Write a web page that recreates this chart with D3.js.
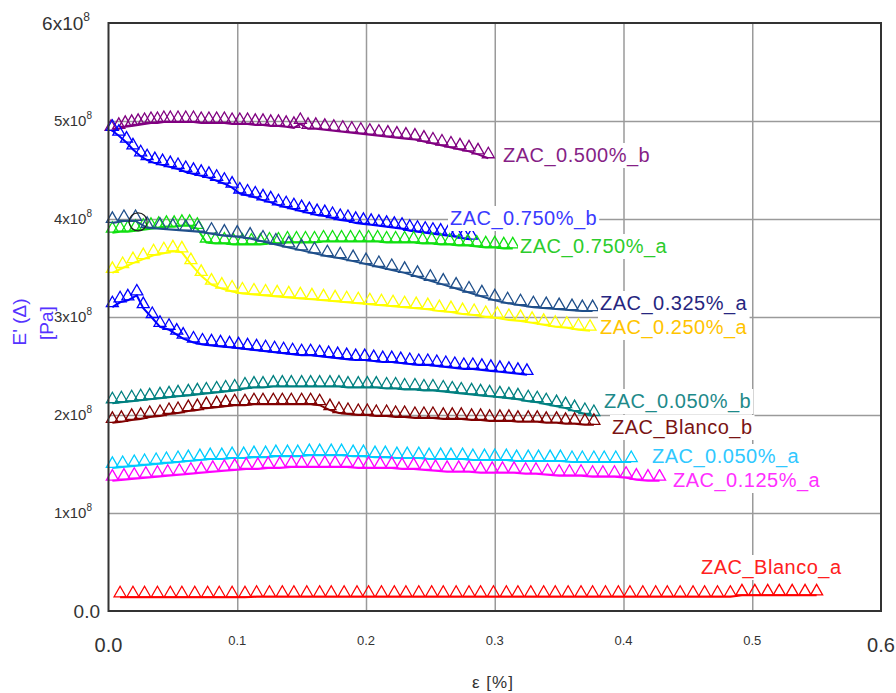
<!DOCTYPE html>
<html><head><meta charset="utf-8">
<script src="https://cdn.jsdelivr.net/npm/d3@7"></script>
<style>
html,body{margin:0;padding:0;background:#fff;}
svg{display:block;font-family:"Liberation Sans",Arial,sans-serif;}
</style></head>
<body>
<svg id="chart" width="896" height="693"></svg>
<script>
// ---- axis ticks ----
const xTicks = [0, 0.1, 0.2, 0.3, 0.4, 0.5, 0.6];
const xTickLabels = ["0.0", "0.1", "0.2", "0.3", "0.4", "0.5", "0.6"];
const yTicks = [0, 1, 2, 3, 4, 5, 6]; // units of 1e8 Pa
const yTickMantissa = ["0.0", "1x10", "2x10", "3x10", "4x10", "5x10", "6x10"];
const yTickExponent = ["", "8", "8", "8", "8", "8", "8"];

// ---- series (strain %, E' in 1e8 Pa) ----
const seriesNames = ["ZAC_0.500%_b", "ZAC_0.750%_b", "ZAC_0.750%_a", "ZAC_0.325%_a", "ZAC_0.250%_a", "ZAC_0.750%_b(2)", "ZAC_0.050%_b", "ZAC_Blanco_b", "ZAC_0.050%_a", "ZAC_0.125%_a", "ZAC_Blanco_a"];

const s0500b_x = [0.002,0.008,0.013,0.018,0.023,0.028,0.033,0.038,0.043,0.048,0.054,0.060,0.066,0.072,0.078,0.084,0.090,0.096,0.102,0.108,0.114,0.120,0.126,0.132,0.138,0.144,0.149,0.155,0.161,0.168,0.175,0.182,0.189,0.196,0.203,0.210,0.217,0.224,0.231,0.238,0.245,0.252,0.259,0.266,0.273,0.280,0.287,0.295];
const s0500b_y = [4.90,4.92,4.94,4.95,4.96,4.97,4.98,4.98,4.99,4.99,4.99,4.99,4.99,4.98,4.98,4.98,4.98,4.97,4.97,4.97,4.96,4.96,4.95,4.95,4.94,4.93,4.97,4.92,4.92,4.91,4.90,4.89,4.88,4.87,4.86,4.85,4.84,4.83,4.82,4.81,4.79,4.77,4.75,4.73,4.71,4.69,4.66,4.62];

const s0750b_x = [0.003,0.008,0.014,0.019,0.025,0.030,0.036,0.042,0.048,0.054,0.060,0.066,0.072,0.078,0.084,0.090,0.096,0.102,0.108,0.114,0.120,0.126,0.132,0.138,0.144,0.150,0.156,0.162,0.168,0.174,0.180,0.186,0.192,0.198,0.204,0.210,0.216,0.222,0.228,0.234,0.240,0.246,0.252,0.258,0.264,0.270,0.276,0.282];
const s0750b_y = [4.90,4.85,4.78,4.71,4.64,4.60,4.57,4.55,4.53,4.51,4.48,4.46,4.44,4.42,4.39,4.36,4.32,4.26,4.24,4.22,4.19,4.17,4.14,4.12,4.10,4.08,4.06,4.04,4.03,4.01,3.99,3.98,3.96,3.95,3.94,3.93,3.92,3.91,3.90,3.88,3.87,3.86,3.85,3.84,3.83,3.82,3.80,3.79];

const s0750a_x = [0.003,0.009,0.015,0.021,0.027,0.033,0.039,0.045,0.051,0.057,0.063,0.069,0.076,0.083,0.090,0.097,0.104,0.111,0.118,0.125,0.132,0.139,0.146,0.153,0.160,0.167,0.174,0.181,0.188,0.195,0.202,0.209,0.216,0.223,0.230,0.237,0.244,0.251,0.258,0.265,0.272,0.279,0.286,0.293,0.300,0.307,0.314];
const s0750a_y = [3.86,3.87,3.87,3.88,3.89,3.90,3.91,3.92,3.92,3.93,3.93,3.90,3.76,3.75,3.75,3.74,3.74,3.74,3.74,3.75,3.75,3.76,3.76,3.76,3.76,3.77,3.77,3.77,3.77,3.77,3.77,3.77,3.76,3.76,3.76,3.76,3.75,3.75,3.74,3.74,3.73,3.73,3.72,3.71,3.71,3.70,3.70];

const s0325a_x = [0.003,0.012,0.021,0.030,0.040,0.050,0.060,0.070,0.080,0.090,0.100,0.110,0.120,0.130,0.140,0.150,0.160,0.170,0.180,0.190,0.200,0.210,0.220,0.230,0.240,0.250,0.260,0.270,0.280,0.290,0.300,0.310,0.320,0.330,0.340,0.350,0.360,0.368,0.376];
const s0325a_y = [3.96,3.98,3.98,3.91,3.90,3.89,3.88,3.87,3.85,3.83,3.82,3.80,3.77,3.74,3.71,3.68,3.65,3.62,3.60,3.57,3.54,3.51,3.48,3.45,3.41,3.37,3.33,3.29,3.25,3.21,3.17,3.14,3.12,3.10,3.09,3.08,3.07,3.06,3.06];

const s0250a_x = [0.003,0.011,0.019,0.027,0.035,0.043,0.050,0.057,0.064,0.072,0.080,0.088,0.096,0.104,0.113,0.122,0.131,0.140,0.149,0.158,0.167,0.176,0.185,0.194,0.203,0.212,0.221,0.230,0.239,0.248,0.257,0.266,0.275,0.284,0.293,0.302,0.311,0.320,0.329,0.338,0.347,0.356,0.365,0.374];
const s0250a_y = [3.45,3.50,3.55,3.59,3.63,3.65,3.67,3.66,3.54,3.42,3.33,3.29,3.26,3.24,3.23,3.22,3.21,3.20,3.19,3.18,3.17,3.16,3.15,3.14,3.13,3.12,3.11,3.10,3.09,3.08,3.06,3.05,3.03,3.02,3.00,2.99,2.97,2.96,2.94,2.92,2.90,2.89,2.87,2.86];

const s0750b2_x = [0.003,0.009,0.015,0.022,0.027,0.034,0.040,0.047,0.053,0.058,0.066,0.073,0.080,0.087,0.094,0.101,0.108,0.115,0.122,0.129,0.136,0.143,0.150,0.157,0.164,0.171,0.178,0.185,0.192,0.199,0.206,0.213,0.220,0.227,0.234,0.241,0.248,0.255,0.262,0.269,0.276,0.283,0.290,0.297,0.304,0.311,0.318,0.325];
const s0750b2_y = [3.10,3.15,3.17,3.22,3.09,2.99,2.90,2.87,2.82,2.78,2.74,2.72,2.71,2.70,2.69,2.68,2.67,2.66,2.65,2.64,2.63,2.62,2.61,2.61,2.60,2.59,2.58,2.57,2.56,2.56,2.55,2.54,2.54,2.53,2.52,2.51,2.51,2.50,2.49,2.48,2.47,2.47,2.46,2.45,2.44,2.43,2.42,2.41];

const s0050b_x = [0.003,0.010,0.018,0.025,0.032,0.040,0.047,0.054,0.062,0.069,0.076,0.084,0.091,0.098,0.106,0.113,0.120,0.128,0.135,0.142,0.150,0.157,0.164,0.172,0.179,0.186,0.194,0.201,0.208,0.216,0.223,0.230,0.238,0.245,0.252,0.260,0.267,0.274,0.282,0.289,0.296,0.304,0.311,0.318,0.326,0.333,0.340,0.348,0.355,0.362,0.370,0.377];
const s0050b_y = [2.12,2.13,2.14,2.15,2.16,2.17,2.18,2.19,2.20,2.21,2.22,2.23,2.24,2.25,2.27,2.28,2.28,2.29,2.29,2.29,2.29,2.29,2.29,2.29,2.29,2.28,2.28,2.28,2.28,2.27,2.27,2.26,2.26,2.25,2.25,2.24,2.23,2.22,2.21,2.20,2.19,2.18,2.17,2.16,2.14,2.13,2.11,2.09,2.07,2.04,2.01,1.99];

const sBlancob_x = [0.003,0.010,0.018,0.025,0.032,0.040,0.047,0.054,0.062,0.069,0.076,0.084,0.091,0.098,0.106,0.113,0.120,0.128,0.135,0.142,0.150,0.157,0.164,0.172,0.179,0.186,0.194,0.201,0.208,0.216,0.223,0.230,0.238,0.245,0.252,0.260,0.267,0.274,0.282,0.289,0.296,0.304,0.311,0.318,0.326,0.333,0.340,0.348,0.355,0.362,0.370,0.377];
const sBlancob_y = [1.92,1.93,1.95,1.96,1.98,1.99,2.01,2.02,2.04,2.05,2.07,2.08,2.09,2.10,2.10,2.11,2.11,2.11,2.11,2.11,2.11,2.11,2.10,2.05,2.02,2.01,2.00,2.00,1.99,1.99,1.98,1.98,1.97,1.97,1.97,1.96,1.96,1.96,1.95,1.95,1.94,1.94,1.94,1.93,1.93,1.93,1.92,1.92,1.91,1.91,1.90,1.90];

const s0050a_x = [0.003,0.011,0.020,0.028,0.037,0.045,0.054,0.062,0.071,0.079,0.088,0.096,0.105,0.113,0.122,0.130,0.139,0.147,0.156,0.164,0.173,0.181,0.190,0.198,0.207,0.215,0.224,0.232,0.241,0.249,0.258,0.266,0.275,0.283,0.292,0.300,0.309,0.317,0.326,0.334,0.343,0.351,0.360,0.368,0.377,0.385,0.394,0.406];
const s0050a_y = [1.46,1.47,1.48,1.49,1.50,1.51,1.52,1.53,1.54,1.55,1.55,1.56,1.56,1.57,1.57,1.58,1.58,1.58,1.59,1.59,1.59,1.59,1.58,1.58,1.57,1.57,1.56,1.56,1.56,1.55,1.55,1.55,1.55,1.54,1.54,1.54,1.54,1.53,1.53,1.53,1.53,1.53,1.52,1.52,1.52,1.52,1.52,1.52];

const s0125a_x = [0.003,0.012,0.020,0.029,0.038,0.046,0.055,0.064,0.072,0.081,0.090,0.098,0.107,0.116,0.124,0.133,0.142,0.150,0.159,0.168,0.176,0.185,0.194,0.202,0.211,0.220,0.228,0.237,0.246,0.254,0.263,0.272,0.280,0.289,0.298,0.306,0.315,0.324,0.332,0.341,0.350,0.358,0.367,0.376,0.384,0.393,0.402,0.410,0.419,0.428];
const s0125a_y = [1.33,1.34,1.35,1.36,1.37,1.38,1.39,1.40,1.41,1.42,1.43,1.44,1.45,1.45,1.46,1.46,1.47,1.47,1.47,1.47,1.47,1.47,1.46,1.46,1.46,1.46,1.45,1.45,1.44,1.43,1.42,1.42,1.42,1.41,1.41,1.41,1.41,1.40,1.40,1.39,1.38,1.38,1.38,1.37,1.37,1.37,1.36,1.34,1.33,1.33];

const sBlancoa_x = [0.009,0.019,0.028,0.038,0.048,0.057,0.067,0.077,0.086,0.096,0.106,0.115,0.125,0.135,0.144,0.154,0.164,0.173,0.183,0.193,0.202,0.212,0.222,0.231,0.241,0.251,0.260,0.270,0.280,0.289,0.299,0.309,0.318,0.328,0.338,0.347,0.357,0.367,0.376,0.386,0.396,0.405,0.415,0.425,0.434,0.444,0.454,0.463,0.473,0.483,0.492,0.502,0.512,0.521,0.531,0.541,0.550];
const sBlancoa_y = [0.14,0.14,0.14,0.14,0.14,0.14,0.14,0.14,0.14,0.14,0.14,0.145,0.145,0.145,0.145,0.145,0.145,0.145,0.145,0.145,0.145,0.145,0.145,0.145,0.145,0.145,0.145,0.145,0.145,0.145,0.145,0.145,0.145,0.145,0.145,0.145,0.145,0.145,0.145,0.145,0.145,0.145,0.145,0.145,0.145,0.145,0.145,0.145,0.145,0.145,0.16,0.16,0.16,0.16,0.16,0.16,0.16];

// annotation ring (data coords)
const ringPoint = [0.023, 3.93];

// ---- styles ----
const markerColors = ["#800080", "#0000ff", "#11e011", "#1f4f8a", "#ffff00", "#0000ff", "#008080", "#800000", "#00ccff", "#ff00ff", "#ff0000"];
const labelColors  = ["#861f86", "#3a3aff", "#2ccc2c", "#262680", "#ffc400", null, "#1e8a8a", "#7a1414", "#30c8ff", "#ff30ff", "#ff2020"];
const labelText    = ["ZAC_0.500%_b", "ZAC_0.750%_b", "ZAC_0.750%_a", "ZAC_0.325%_a", "ZAC_0.250%_a", null, "ZAC_0.050%_b", "ZAC_Blanco_b", "ZAC_0.050%_a", "ZAC_0.125%_a", "ZAC_Blanco_a"];
const labelPos = [[503,162],[450,225],[520,253],[600,310],[600,334],null,[604,408],[612,434],[652,463],[673,487],[701,574]];

const allX = [s0500b_x, s0750b_x, s0750a_x, s0325a_x, s0250a_x, s0750b2_x, s0050b_x, sBlancob_x, s0050a_x, s0125a_x, sBlancoa_x];
const allY = [s0500b_y, s0750b_y, s0750a_y, s0325a_y, s0250a_y, s0750b2_y, s0050b_y, sBlancob_y, s0050a_y, s0125a_y, sBlancoa_y];

const series = seriesNames.map((n, i) => ({
  name: n, color: markerColors[i],
  pts: allX[i].map((xv, j) => [xv, allY[i][j]])
}));

const svg = d3.select("#chart");
const L = 108.5, R = 881, T = 23, B = 611;
const x = d3.scaleLinear().domain([0, 0.6]).range([L, R]);
const y = d3.scaleLinear().domain([0, 6]).range([B, T]);

// grid via axes
svg.append("g").attr("transform", `translate(0,${B})`)
  .call(d3.axisBottom(x).tickValues(xTicks.slice(1, -1)).tickSize(-(B - T)).tickFormat(""))
  .call(g => g.select(".domain").remove())
  .call(g => g.selectAll("line").attr("stroke", "#9a9a9a").attr("stroke-width", 1.5));
svg.append("g").attr("transform", `translate(${L},0)`)
  .call(d3.axisLeft(y).tickValues(yTicks.slice(1, -1)).tickSize(-(R - L)).tickFormat(""))
  .call(g => g.select(".domain").remove())
  .call(g => g.selectAll("line").attr("stroke", "#9a9a9a").attr("stroke-width", 1.5));

// series
const line = d3.line().x(d => x(d[0])).y(d => y(d[1]));
const tri = "M-6,-0.5L6,-0.5L0,-11Z";
series.forEach(s => {
  const g = svg.append("g");
  g.append("path").datum(s.pts).attr("d", line).attr("fill", "none")
    .attr("stroke", s.color).attr("stroke-width", 2);
  g.selectAll("path.m").data(s.pts).join("path").attr("class", "m")
    .attr("d", tri).attr("transform", d => `translate(${x(d[0])},${y(d[1])})`)
    .attr("fill", "none").attr("stroke", s.color).attr("stroke-width", 1.3);
});

// ring
svg.append("circle").attr("cx", x(ringPoint[0])).attr("cy", y(ringPoint[1]) - 4)
  .attr("r", 9).attr("fill", "none").attr("stroke", "#222").attr("stroke-width", 1.2);

// labels with white boxes
labelText.forEach((t, i) => {
  if (!t) return;
  const g = svg.append("g");
  const txt = g.append("text").attr("x", labelPos[i][0]).attr("y", labelPos[i][1])
    .attr("font-size", 20).attr("letter-spacing", 0.5).attr("fill", labelColors[i]).text(t);
  const bb = txt.node().getBBox();
  g.insert("rect", "text").attr("x", bb.x - 2).attr("y", bb.y - 1)
    .attr("width", bb.width + 4).attr("height", bb.height + 2).attr("fill", "#fff");
});

// frame
svg.append("rect").attr("x", L).attr("y", T).attr("width", R - L).attr("height", B - T)
  .attr("fill", "none").attr("stroke", "#333").attr("stroke-width", 2);

// y tick labels
yTicks.forEach((v, i) => {
  const big = (i === 0 || i === yTicks.length - 1);
  const t = svg.append("text").attr("text-anchor", "end").attr("fill", "#333")
    .attr("x", i === 0 ? 100 : (big ? 90 : 92))
    .attr("y", y(v) + (big ? 7 : 5))
    .attr("font-size", big ? 19 : 15);
  t.append("tspan").text(yTickMantissa[i]);
  if (yTickExponent[i]) t.append("tspan").attr("dy", big ? -9 : -7).attr("font-size", big ? 12 : 10).text(yTickExponent[i]);
});

// x tick labels
xTicks.forEach((v, i) => {
  const big = (i === 0 || i === xTicks.length - 1);
  svg.append("text").attr("text-anchor", "middle").attr("fill", "#333")
    .attr("x", x(v)).attr("y", big ? 652 : 645)
    .attr("font-size", big ? 20 : 13).text(xTickLabels[i]);
});

// axis titles
svg.append("text").attr("x", 493).attr("y", 688).attr("text-anchor", "middle")
  .attr("font-size", 17).attr("letter-spacing", 1).attr("fill", "#333").text("ε [%]");
svg.append("text").attr("transform", "translate(26,322) rotate(-90)").attr("text-anchor", "middle")
  .attr("font-size", 19).attr("fill", "#5533ff").text("E' (Δ)");
svg.append("text").attr("transform", "translate(53,323) rotate(-90)").attr("text-anchor", "middle")
  .attr("font-size", 19).attr("fill", "#5533ff").text("[Pa]");
</script>
</body></html>
